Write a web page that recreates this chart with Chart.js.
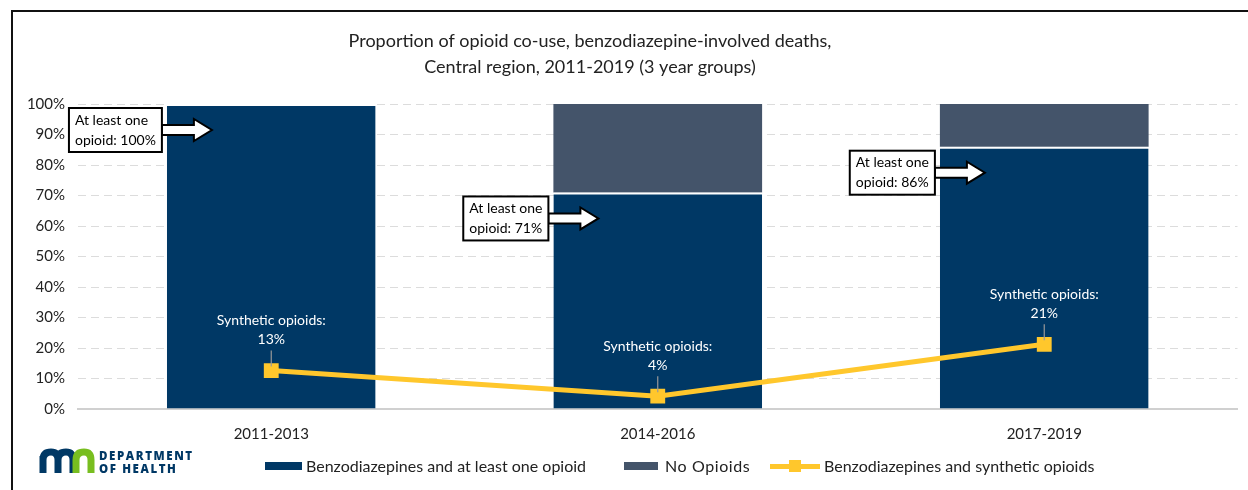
<!DOCTYPE html>
<html>
<head>
<meta charset="utf-8">
<script src="https://cdn.jsdelivr.net/npm/chart.js@4"></script>
<style>
    html, body { margin: 0; padding: 0; background: #fff; }
    #wrap { position: relative; width: 1248px; height: 490px; overflow: hidden; font-family: Lato, "Open Sans", sans-serif; }
    #frame { position: absolute; left: 11px; top: 10px; width: 1240px; height: 490px; border-top: 2px solid #111; border-left: 2px solid #111; box-sizing: border-box; }
    canvas { position: absolute; left: 0; top: 0; }
    .leg { position: absolute; top: 456px; font-size: 16px; color: #222; white-space: nowrap; }
    .sw { position: absolute; height: 8px; top: 462px; }
    #logo { position: absolute; left: 38px; top: 448px; }
    .dept { position: absolute; left: 99px; font-weight: 900; font-size: 11.5px; letter-spacing: 1.6px; color: #003865; font-family: "Open Sans", sans-serif; }
</style>
</head>
<body>
<div id="wrap">
    <canvas id="chart" width="1248" height="490"></canvas>
    <div id="frame"></div>

    <!-- logo MDH -->
    <svg id="logo" width="58" height="26" viewBox="0 0 58 26">
        <path d="M5 25 V8 M5 12 Q5 4 13 4 Q20 4 20 12 V25 M20 12 Q20 4 28 4 Q35 4 35 12 V25" stroke="#003865" stroke-width="7" fill="none"/>
        <path d="M38 25 V12 Q38 4 46 4 Q53 4 53 12 V25" stroke="#78be20" stroke-width="7" fill="none"/>
    </svg>
    <div class="dept" style="top:448px">DEPARTMENT</div>
    <div class="dept" style="top:461px">OF HEALTH</div>

    <!-- legenda -->
    <div class="sw" style="left:265px; width:37px; background:#003865"></div>
    <div class="leg" style="left:306px">Benzodiazepines and at least one opioid</div>
    <div class="sw" style="left:624px; width:34px; background:#44546a"></div>
    <div class="leg" style="left:665px; letter-spacing:0.6px">No Opioids</div>
    <div class="sw" style="left:770px; width:50px; height:5px; top:464px; background:#ffc72c"></div>
    <div class="sw" style="left:789px; width:12px; height:12px; top:460px; background:#ffc72c"></div>
    <div class="leg" style="left:824px">Benzodiazepines and synthetic opioids</div>
</div>

<script>
// ===============================
// Dati del grafico
// ===============================

// Categorie (gruppi di 3 anni)
const labels = ["2011-2013", "2014-2016", "2017-2019"];

// Benzodiazepine + almeno un oppioide (%)
const atLeastOne = [100, 71, 86];

// Nessun oppioide (%)
const noOpioids = [0, 29, 14];

// Benzodiazepine + oppioidi sintetici (%)
const synthetic = [12.6, 4.2, 21.2];

// Etichette asse Y
const yTicks = [0, 10, 20, 30, 40, 50, 60, 70, 80, 90, 100];

const FONT = "Lato, 'Open Sans', sans-serif";

// ===============================
// Plugin: titolo, callout e etichette
// ===============================
const annotations = {
    id: "annotations",
    afterDatasetsDraw(chart) {
        const ctx = chart.ctx;
        const y = chart.scales.y;
        const barMeta = chart.getDatasetMeta(0);
        const lineMeta = chart.getDatasetMeta(2);

        ctx.save();

        // Titolo
        ctx.fillStyle = "#222";
        ctx.font = "18px " + FONT;
        ctx.textAlign = "center";
        ctx.textBaseline = "middle";
        ctx.fillText("Proportion of opioid co-use, benzodiazepine-involved deaths,", 590, 41);
        ctx.fillText("Central region, 2011-2019 (3 year groups)", 590, 67);

        // Callout "At least one opioid"
        ctx.font = "14px " + FONT;
        atLeastOne.forEach((v, i) => {
            const bar = barMeta.data[i];
            const left = bar.x - bar.width / 2;
            const tipX = left + 45;
            const tipY = y.getPixelForValue(v) + 26;
            const line2 = "opioid: " + v + "%";
            const w = Math.max(ctx.measureText("At least one").width, ctx.measureText(line2).width) + 12;
            const bx = left - 5 - w, by = tipY - 22, bh = 44;

            // freccia
            ctx.beginPath();
            ctx.moveTo(bx + w, tipY - 5);
            ctx.lineTo(left + 27, tipY - 5);
            ctx.lineTo(left + 27, tipY - 11);
            ctx.lineTo(tipX, tipY);
            ctx.lineTo(left + 27, tipY + 11);
            ctx.lineTo(left + 27, tipY + 5);
            ctx.lineTo(bx + w, tipY + 5);
            ctx.closePath();
            ctx.fillStyle = "#fff";
            ctx.fill();
            ctx.strokeStyle = "#000";
            ctx.lineWidth = 2;
            ctx.stroke();

            // riquadro
            ctx.fillStyle = "#fff";
            ctx.fillRect(bx, by, w, bh);
            ctx.strokeRect(bx, by, w, bh);
            ctx.fillStyle = "#000";
            ctx.textAlign = "left";
            ctx.fillText("At least one", bx + 6, by + 12);
            ctx.fillText(line2, bx + 6, by + 32);
        });

        // Etichette oppioidi sintetici
        ctx.textAlign = "center";
        synthetic.forEach((v, i) => {
            const p = lineMeta.data[i];
            ctx.strokeStyle = "#999";
            ctx.lineWidth = 1.2;
            ctx.beginPath();
            ctx.moveTo(p.x, p.y - 20);
            ctx.lineTo(p.x, p.y - 4);
            ctx.stroke();
            ctx.fillStyle = "#fff";
            ctx.fillText("Synthetic opioids:", p.x, p.y - 50);
            ctx.fillText(Math.round(v) + "%", p.x, p.y - 31);
        });

        ctx.restore();
    }
};

// ===============================
// Creazione grafico con Chart.js
// ===============================
new Chart(document.getElementById("chart"), {
    data: {
        labels: labels,
        datasets: [
            {
                type: "bar",
                label: "Benzodiazepines and at least one opioid",
                data: atLeastOne,
                backgroundColor: "#003865",
                borderColor: "#ffffff",
                borderWidth: { top: 2 },
                borderSkipped: false,
                barPercentage: 0.54,
                categoryPercentage: 1,
                order: 2
            },
            {
                type: "bar",
                label: "No Opioids",
                data: noOpioids,
                backgroundColor: "#44546a",
                barPercentage: 0.54,
                categoryPercentage: 1,
                order: 2
            },
            {
                type: "line",
                label: "Benzodiazepines and synthetic opioids",
                data: synthetic,
                borderColor: "#ffc72c",
                backgroundColor: "#ffc72c",
                borderWidth: 5,
                pointStyle: "rect",
                pointRadius: 10.5,
                pointHoverRadius: 10.5,
                pointBorderWidth: 0,
                tension: 0,
                order: 1
            }
        ]
    },
    options: {
        responsive: false,
        animation: false,
        layout: { padding: { left: 0, right: 3, top: 104, bottom: 0 } },
        plugins: {
            legend: { display: false },
            title: { display: false },
            tooltip: { enabled: false }
        },
        scales: {
            x: {
                stacked: true,
                afterFit: s => { s.height = 81; },
                grid: { display: false, drawTicks: false },
                border: { display: true, color: "#d0d0d0", width: 2 },
                ticks: { color: "#222", font: { family: FONT, size: 15 }, padding: 16 }
            },
            y: {
                stacked: true,
                min: 0,
                max: 100,
                afterFit: s => { s.width = 78; },
                afterBuildTicks: s => { s.ticks = yTicks.map(v => ({ value: v })); },
                grid: { color: "#dcdcdc", drawTicks: false },
                border: { display: false, dash: [8, 5] },
                ticks: {
                    color: "#222",
                    font: { family: FONT, size: 15 },
                    padding: 13,
                    callback: v => v + "%"
                }
            }
        }
    },
    plugins: [annotations]
});
</script>
</body>
</html>
